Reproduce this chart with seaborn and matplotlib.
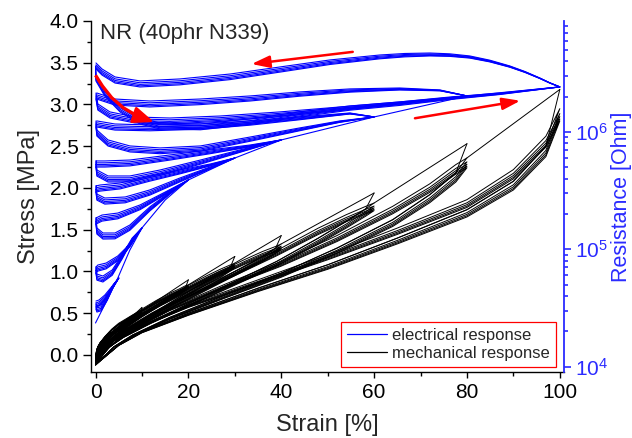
import numpy as np
import pandas as pd
import matplotlib
matplotlib.use("Agg")
import matplotlib.pyplot as plt
import seaborn as sns
from matplotlib.lines import Line2D
from matplotlib.ticker import MultipleLocator, LogLocator, NullFormatter, FormatStrFormatter

# ---------------- multi-step cyclic tensile test ----------------
stage_strain = [5, 10, 20, 30, 40, 60, 80, 100]          # stage amplitude, % strain

# ---- mechanical response (stress in MPa) ----
stress_first_peak = [0.33, 0.57, 0.90, 1.18, 1.43, 1.94, 2.53, 3.18]
loop_fraction = [0, 0.05, 0.1, 0.2, 0.35, 0.5, 0.65, 0.8, 0.9, 0.97, 1.0]

stress_unload_5 = [-0.06, 0.03, 0.07, 0.12, 0.17, 0.21, 0.24, 0.27, 0.29, 0.30, 0.31]
stress_reload_5 = [-0.03, 0.06, 0.10, 0.15, 0.20, 0.24, 0.27, 0.29, 0.30, 0.31, 0.31]
stress_unload_10 = [-0.07, 0.05, 0.10, 0.17, 0.26, 0.33, 0.39, 0.45, 0.49, 0.52, 0.53]
stress_reload_10 = [-0.03, 0.09, 0.14, 0.22, 0.31, 0.38, 0.43, 0.48, 0.51, 0.53, 0.53]
stress_unload_20 = [-0.08, 0.06, 0.13, 0.23, 0.36, 0.48, 0.59, 0.70, 0.76, 0.81, 0.84]
stress_reload_20 = [-0.04, 0.11, 0.19, 0.30, 0.44, 0.55, 0.65, 0.74, 0.79, 0.83, 0.84]
stress_unload_30 = [-0.09, 0.07, 0.15, 0.28, 0.44, 0.59, 0.74, 0.89, 0.98, 1.06, 1.10]
stress_reload_30 = [-0.04, 0.13, 0.22, 0.36, 0.53, 0.68, 0.82, 0.95, 1.03, 1.08, 1.10]
stress_unload_40 = [-0.10, 0.08, 0.18, 0.33, 0.52, 0.70, 0.88, 1.06, 1.18, 1.28, 1.33]
stress_reload_40 = [-0.05, 0.15, 0.26, 0.42, 0.62, 0.80, 0.98, 1.14, 1.24, 1.30, 1.33]
stress_unload_60 = [-0.11, 0.10, 0.22, 0.40, 0.64, 0.88, 1.12, 1.40, 1.60, 1.75, 1.82]
stress_reload_60 = [-0.05, 0.17, 0.30, 0.50, 0.76, 1.00, 1.25, 1.52, 1.68, 1.78, 1.82]
stress_unload_80 = [-0.12, 0.10, 0.24, 0.45, 0.72, 0.98, 1.28, 1.62, 1.92, 2.18, 2.36]
stress_reload_80 = [-0.06, 0.18, 0.32, 0.56, 0.85, 1.12, 1.43, 1.78, 2.05, 2.28, 2.36]
stress_unload_100 = [-0.12, 0.12, 0.28, 0.50, 0.80, 1.08, 1.40, 1.74, 2.08, 2.50, 2.95]
stress_reload_100 = [-0.06, 0.20, 0.36, 0.60, 0.90, 1.20, 1.52, 1.86, 2.22, 2.62, 2.95]

mech_unload = [stress_unload_5, stress_unload_10, stress_unload_20, stress_unload_30,
               stress_unload_40, stress_unload_60, stress_unload_80, stress_unload_100]
mech_reload = [stress_reload_5, stress_reload_10, stress_reload_20, stress_reload_30,
               stress_reload_40, stress_reload_60, stress_reload_80, stress_reload_100]

cycle_softening = [1.0, 0.98, 0.968, 0.958, 0.95]     # repeated cycles within a stage
virgin_strain = [0.0, 1.0, 2.5, 5.0]
virgin_stress = [-0.02, 0.12, 0.22, 0.33]

# ---- electrical response (log10 of resistance in Ohm) ----
res_virgin_strain = [0.0, 2.5, 4.8, 7.4, 10.0, 15.0, 20.0, 30.0, 40.0, 60.0, 80.0, 100.0]
res_virgin_log = [4.372, 4.568, 4.755, 4.994, 5.182, 5.420, 5.591, 5.778, 5.932, 6.128, 6.307, 6.384]

res_load_x_5 = [0.1, 0.3, 1.2, 2.5, 3.8, 5.0]
res_load_log_5 = [4.542, 4.517, 4.525, 4.602, 4.696, 4.755]
res_unload_x_5 = [5.0, 3.6, 2.0, 0.75, 0.1]
res_unload_log_5 = [4.755, 4.687, 4.610, 4.568, 4.559]

res_load_x_10 = [0.1, 0.3, 1.6, 3.6, 5.7, 7.9, 10.0]
res_load_log_10 = [4.849, 4.789, 4.772, 4.824, 4.951, 5.096, 5.182]
res_unload_x_10 = [10.0, 7.4, 4.8, 2.3, 0.5, 0.1]
res_unload_log_10 = [5.182, 5.045, 4.943, 4.883, 4.866, 4.849]

res_load_x_20 = [0.1, 0.3, 1.6, 4.2, 7.4, 11.7, 16.0, 20.0]
res_load_log_20 = [5.267, 5.182, 5.139, 5.139, 5.207, 5.361, 5.488, 5.591]
res_unload_x_20 = [20.0, 15.0, 9.6, 4.8, 1.4, 0.1]
res_unload_log_20 = [5.591, 5.488, 5.378, 5.309, 5.292, 5.267]

res_load_x_30 = [0.1, 0.3, 2.0, 6.4, 11.7, 18.2, 24.7, 30.0]
res_load_log_30 = [5.540, 5.471, 5.437, 5.446, 5.506, 5.608, 5.702, 5.778]
res_unload_x_30 = [30.0, 24.7, 18.2, 11.7, 5.3, 1.0, 0.1]
res_unload_log_30 = [5.778, 5.727, 5.676, 5.625, 5.565, 5.548, 5.540]

res_load_x_40 = [0.1, 0.3, 2.7, 7.4, 13.9, 22.6, 31.1, 40.0]
res_load_log_40 = [5.753, 5.676, 5.625, 5.625, 5.676, 5.761, 5.847, 5.932]
res_unload_x_40 = [40.0, 33.3, 24.7, 16.0, 7.4, 2.0, 0.1]
res_unload_log_40 = [5.932, 5.889, 5.847, 5.804, 5.761, 5.753, 5.753]

res_load_x_60 = [0.1, 0.3, 2.7, 7.4, 13.9, 22.6, 33.3, 43.9, 52.6, 60.0]
res_load_log_60 = [6.094, 6.017, 5.932, 5.881, 5.864, 5.881, 5.957, 6.034, 6.094, 6.128]
res_unload_x_60 = [60.0, 54.8, 43.9, 33.3, 22.6, 11.7, 4.2, 0.3]
res_unload_log_60 = [6.128, 6.162, 6.128, 6.094, 6.068, 6.060, 6.068, 6.094]

res_load_x_80 = [0.1, 0.5, 3.1, 8.5, 16.0, 26.8, 39.7, 52.6, 65.5, 80.0]
res_load_log_80 = [6.332, 6.239, 6.171, 6.128, 6.119, 6.136, 6.171, 6.213, 6.256, 6.307]
res_unload_x_80 = [80.0, 74.2, 65.5, 54.8, 43.9, 33.3, 22.6, 11.7, 4.2, 0.3]
res_unload_log_80 = [6.307, 6.358, 6.375, 6.367, 6.341, 6.307, 6.281, 6.264, 6.281, 6.332]

res_load_x_100 = [0.0, 0.1, 2.0, 5.3, 9.6, 13.9, 22.6, 33.3, 43.9, 54.8, 65.5, 76.3, 87.1, 100.0]
res_load_log_100 = [6.563, 6.486, 6.358, 6.222, 6.119, 6.077, 6.068, 6.111, 6.171, 6.222, 6.256, 6.298, 6.332, 6.384]
res_unload_x_100 = [100.0, 97.8, 95.7, 92.5, 89.2, 84.9, 80.6, 76.3, 72.0, 66.6, 61.2, 50.5, 39.7, 29.0, 18.2, 9.6, 4.2, 1.4, 0.1]
res_unload_log_100 = [6.384, 6.420, 6.460, 6.515, 6.563, 6.612, 6.648, 6.666, 6.673, 6.669, 6.656, 6.614, 6.554, 6.494, 6.452, 6.435, 6.469, 6.537, 6.588]

res_load_x = [res_load_x_5, res_load_x_10, res_load_x_20, res_load_x_30,
              res_load_x_40, res_load_x_60, res_load_x_80, res_load_x_100]
res_load_log = [res_load_log_5, res_load_log_10, res_load_log_20, res_load_log_30,
                res_load_log_40, res_load_log_60, res_load_log_80, res_load_log_100]
res_unload_x = [res_unload_x_5, res_unload_x_10, res_unload_x_20, res_unload_x_30,
                res_unload_x_40, res_unload_x_60, res_unload_x_80, res_unload_x_100]
res_unload_log = [res_unload_log_5, res_unload_log_10, res_unload_log_20, res_unload_log_30,
                  res_unload_log_40, res_unload_log_60, res_unload_log_80, res_unload_log_100]

res_cycle_shift = [0.0, -0.016, -0.03, -0.042, -0.052]   # drift of log10(R) over the cycles

# ---------------- assemble long-form tables ----------------
mech_rows, res_rows = [], []


def push(rows, trace, xs, ys):
    rows.extend((trace, float(x), float(y)) for x, y in zip(xs, ys))


trace = 0
for k, e in enumerate(stage_strain):
    xs = np.asarray(loop_fraction) * e
    U = np.asarray(mech_unload[k])
    Rl = np.asarray(mech_reload[k])
    if k == 0:
        push(mech_rows, trace, virgin_strain, virgin_stress)
    else:
        push(mech_rows, trace, [stage_strain[k - 1], e],
             [mech_reload[k - 1][-1], stress_first_peak[k]])
    trace += 1
    push(mech_rows, trace, xs[::-1], np.r_[stress_first_peak[k], U[-2::-1]])
    trace += 1
    for f in cycle_softening:
        push(mech_rows, trace, np.r_[xs, xs[::-1]], np.r_[Rl, U[::-1]] * f)
        trace += 1

push(res_rows, 0, res_virgin_strain, 10 ** np.asarray(res_virgin_log))
trace = 1
for k, e in enumerate(stage_strain):
    x = np.r_[res_load_x[k], res_unload_x[k]]
    lg = np.r_[res_load_log[k], res_unload_log[k]]
    taper = 1 - (x / e) ** 2
    for sh in res_cycle_shift:
        push(res_rows, trace, x, 10 ** (lg + sh * taper))
        trace += 1

mech = pd.DataFrame(mech_rows, columns=["trace", "strain", "stress"])
res = pd.DataFrame(res_rows, columns=["trace", "strain", "resistance"])

# ---------------- figure ----------------
sns.set_theme(style="ticks")
plt.rcParams["font.family"] = ["Liberation Sans", "DejaVu Sans"]
plt.rcParams["mathtext.fontset"] = "custom"
plt.rcParams["mathtext.rm"] = "Liberation Sans"
plt.rcParams["axes.edgecolor"] = "black"
plt.rcParams["xtick.color"] = "black"
plt.rcParams["ytick.color"] = "black"

BLUE = "#0000ff"
AXBLUE = "#2b2bff"

fig = plt.figure(figsize=(6.32, 4.38), dpi=100)
ax = fig.add_axes([0.144, 0.1514, 0.7484, 0.8007])
ax2 = ax.twinx()

sns.lineplot(data=mech, x="strain", y="stress", units="trace", estimator=None,
             sort=False, color="black", lw=0.7, ax=ax, legend=False)
sns.lineplot(data=res, x="strain", y="resistance", units="trace", estimator=None,
             sort=False, color=BLUE, lw=0.8, ax=ax2, legend=False)

ax.set_xlim(-0.97, 100.9)
ax.set_ylim(-0.2, 4.0)
ax2.set_yscale("log")
ax2.set_ylim(10 ** 3.957, 10 ** 6.946)

# spines
for sp in ["top", "right"]:
    ax.spines[sp].set_visible(False)
for sp in ["top", "left", "bottom"]:
    ax2.spines[sp].set_visible(False)
ax2.spines["right"].set_color(AXBLUE)
for sp in ["left", "bottom"]:
    ax.spines[sp].set_linewidth(1.0)
ax2.spines["right"].set_linewidth(1.3)

# ticks
ax.xaxis.set_major_locator(MultipleLocator(20))
ax.xaxis.set_minor_locator(MultipleLocator(10))
ax.yaxis.set_major_locator(MultipleLocator(0.5))
ax.yaxis.set_minor_locator(MultipleLocator(0.25))
ax.yaxis.set_major_formatter(FormatStrFormatter("%.1f"))
ax.tick_params(axis="y", which="major", direction="out", length=6, width=1, labelsize=15, pad=3)
ax.tick_params(axis="y", which="minor", direction="out", length=3, width=1)
ax.tick_params(axis="x", which="major", direction="out", length=4, width=1, labelsize=15, pad=4)
ax.tick_params(axis="x", which="minor", direction="out", length=3, width=1)

ax2.yaxis.set_major_locator(LogLocator(base=10))
ax2.yaxis.set_minor_locator(LogLocator(base=10, subs=np.arange(2, 10)))
ax2.yaxis.set_minor_formatter(NullFormatter())
ax2.tick_params(axis="y", which="major", direction="out", length=5, width=1.2,
                labelsize=15, colors=AXBLUE, pad=3)
ax2.tick_params(axis="y", which="minor", direction="out", length=3, width=1.2, colors=AXBLUE)

ax.set_xlabel("Strain [%]", fontsize=17, labelpad=9)
ax.set_ylabel("Stress [MPa]", fontsize=17, labelpad=7)
ax2.set_ylabel("Resistance [Ohm]", fontsize=15.5, color=AXBLUE, labelpad=2)

ax.text(0.02, 0.965, "NR (40phr N339)", transform=ax.transAxes, fontsize=16,
        ha="left", va="center")

# direction arrows (placed in strain / stress coordinates)
arrow_kw = dict(arrowstyle="-|>,head_length=0.6,head_width=0.2", color="red",
                lw=1.8, mutation_scale=18, shrinkA=0, shrinkB=0)
ax2.annotate("", xy=(33.6, 3.485), xytext=(55.4, 3.63),
             xycoords=ax.transData, textcoords=ax.transData, arrowprops=arrow_kw)
ax2.annotate("", xy=(91.5, 3.045), xytext=(68.8, 2.835),
             xycoords=ax.transData, textcoords=ax.transData, arrowprops=arrow_kw)
curve_strain = [0.0, 1.5, 3.5, 6.0, 9.2]
curve_stress = [3.35, 3.22, 3.08, 2.96, 2.855]
ax2.plot(curve_strain, curve_stress, color="red", lw=2.4, transform=ax.transData,
         solid_capstyle="butt")
ax2.annotate("", xy=(12.6, 2.79), xytext=(9.0, 2.86),
             xycoords=ax.transData, textcoords=ax.transData,
             arrowprops=dict(arrowstyle="-|>,head_length=0.7,head_width=0.28", color="red",
                             lw=2.0, mutation_scale=18, shrinkA=0, shrinkB=0))

handles = [Line2D([], [], color=BLUE, lw=0.9), Line2D([], [], color="black", lw=0.9)]
leg = ax2.legend(handles, ["electrical response", "mechanical response"],
                 loc="lower right", bbox_to_anchor=(0.983, 0.013), borderaxespad=0,
                 fontsize=12, frameon=True, fancybox=False, framealpha=1,
                 edgecolor="red", handlelength=2.4, handletextpad=0.35,
                 labelspacing=0.2, borderpad=0.35)
leg.get_frame().set_linewidth(0.9)

fig.savefig("out.png", dpi=100)
